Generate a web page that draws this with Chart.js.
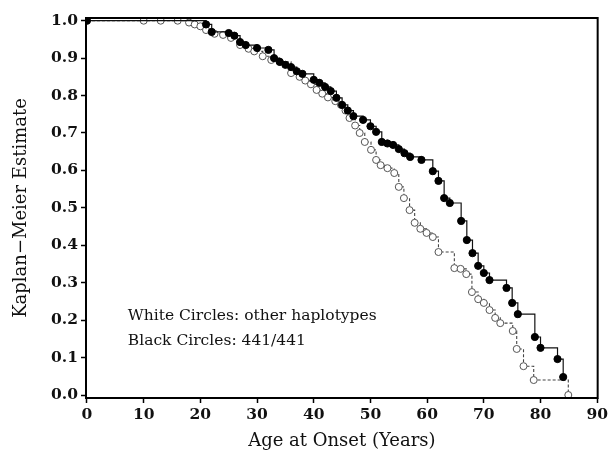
<!DOCTYPE html>
<html>
<head>
<meta charset="utf-8">
<script src="https://cdn.jsdelivr.net/npm/chart.js@4/dist/chart.umd.min.js"></script>
<style>
  html, body { margin: 0; padding: 0; background: #fff; }
  #wrap { width: 611px; height: 460px; position: relative; }
</style>
</head>
<body>
<div id="wrap"><canvas id="c" width="611" height="460"></canvas></div>
<script>
// Black circles: 441/441 (solid step line)
const blackAges = [0, 21, 22, 25, 26, 27, 28, 30, 32, 33, 34, 35, 36, 37, 38, 40, 41, 42, 43, 44, 45, 46, 47, 48.7, 50, 51, 52, 53, 54, 55, 56, 57, 59, 61, 62, 63, 64, 66, 67, 68, 69, 70, 71, 74, 75, 76, 79, 80, 83, 84];
const blackSurv = [1.0, 0.99, 0.97, 0.967, 0.96, 0.943, 0.935, 0.927, 0.922, 0.90, 0.89, 0.882, 0.876, 0.865, 0.858, 0.842, 0.834, 0.823, 0.812, 0.794, 0.775, 0.76, 0.745, 0.735, 0.718, 0.703, 0.676, 0.672, 0.668, 0.657, 0.646, 0.636, 0.628, 0.598, 0.572, 0.526, 0.513, 0.465, 0.414, 0.379, 0.345, 0.326, 0.307, 0.286, 0.246, 0.216, 0.155, 0.126, 0.096, 0.048];

// White circles: other haplotypes (dashed step line)
const whiteAges = [0, 10, 13, 16, 18, 19, 20, 21, 22.5, 24, 25.4, 27, 28.5, 29.5, 31, 32.5, 34, 36, 37.5, 38.5, 39.5, 40.5, 41.5, 42.5, 43.8, 44.8, 45.6, 46.3, 47.3, 48.1, 49, 50.1, 51, 51.8, 53, 54.2, 55, 55.9, 56.9, 57.8, 58.8, 59.9, 61, 62, 64.8, 65.9, 66.9, 67.9, 69, 70, 71, 72, 72.9, 75.1, 75.8, 77, 78.8, 84.9];
const whiteSurv = [1.0, 1.0, 1.0, 1.0, 0.995, 0.99, 0.985, 0.975, 0.965, 0.962, 0.954, 0.935, 0.925, 0.918, 0.905, 0.895, 0.89, 0.86, 0.85, 0.84, 0.83, 0.815, 0.805, 0.795, 0.785, 0.775, 0.76, 0.74, 0.72, 0.70, 0.676, 0.655, 0.628, 0.614, 0.606, 0.593, 0.556, 0.526, 0.494, 0.46, 0.444, 0.433, 0.422, 0.382, 0.339, 0.337, 0.323, 0.275, 0.256, 0.246, 0.227, 0.206, 0.192, 0.171, 0.123, 0.077, 0.040, 0.0];

const xTickValues = [0, 10, 20, 30, 40, 50, 60, 70, 80, 90];
const yTickValues = [0.0, 0.1, 0.2, 0.3, 0.4, 0.5, 0.6, 0.7, 0.8, 0.9, 1.0];

const xTitle = 'Age at Onset (Years)';
const yTitle = 'Kaplan\u2212Meier Estimate';
const noteLines = ['White Circles: other haplotypes', 'Black Circles: 441/441'];

const SERIF = '"DejaVu Serif", "Liberation Serif", serif';

const blackData = blackAges.map((a, i) => ({ x: a, y: blackSurv[i] }));
const whiteData = whiteAges.map((a, i) => ({ x: a, y: whiteSurv[i] }));
const whiteRadius = whiteAges.map((a, i) => (i === 0 ? 0 : 3.5));

const framePlugin = {
  id: 'frame',
  afterDraw(chart) {
    const { ctx, chartArea: a } = chart;
    ctx.save();
    ctx.strokeStyle = '#000';
    ctx.lineWidth = 2;
    ctx.strokeRect(a.left, a.top, a.right - a.left, a.bottom - a.top);
    ctx.fillStyle = '#111';
    ctx.font = '15.5px ' + SERIF;
    ctx.textBaseline = 'middle';
    ctx.textAlign = 'left';
    const xs = chart.scales.x, ys = chart.scales.y;
    const tx = xs.getPixelForValue(7.2);
    ctx.fillText(noteLines[0], tx, ys.getPixelForValue(0.21));
    ctx.fillText(noteLines[1], tx, ys.getPixelForValue(0.145));
    ctx.restore();
  }
};

new Chart(document.getElementById('c'), {
  type: 'line',
  data: {
    datasets: [
      {
        label: 'Black Circles: 441/441',
        data: blackData,
        stepped: true,
        borderColor: '#111',
        borderWidth: 1.2,
        pointRadius: 3.6,
        pointBackgroundColor: '#000',
        pointBorderColor: '#000',
        pointBorderWidth: 1,
        fill: false
      },
      {
        label: 'White Circles: other haplotypes',
        data: whiteData,
        stepped: true,
        borderColor: '#444',
        borderWidth: 1.1,
        borderDash: [3, 2],
        pointRadius: whiteRadius,
        pointBackgroundColor: '#fff',
        pointBorderColor: '#555',
        pointBorderWidth: 1,
        fill: false
      }
    ]
  },
  options: {
    responsive: false,
    animation: false,
    devicePixelRatio: 1,
    layout: { padding: { left: 0, right: 9, top: 18, bottom: 0 } },
    plugins: { legend: { display: false }, tooltip: { enabled: false } },
    scales: {
      x: {
        type: 'linear',
        min: -0.175,
        max: 90.08,
        afterFit(s) { s.height = 62; },
        afterBuildTicks(s) { s.ticks = xTickValues.map(v => ({ value: v })); },
        ticks: {
          color: '#111',
          font: { family: SERIF, size: 15.5, weight: 'bold' },
          padding: 3,
          maxRotation: 0,
          callback: v => String(v)
        },
        grid: { display: true, drawOnChartArea: false, drawTicks: true, tickLength: 5, color: '#000', tickWidth: 1.5 },
        border: { display: false },
        title: {
          display: true,
          text: xTitle,
          color: '#111',
          font: { family: SERIF, size: 18 },
          padding: { top: 0, bottom: 8 }
        }
      },
      y: {
        type: 'linear',
        min: -0.008,
        max: 1.0072,
        afterFit(s) { s.width = 86; },
        afterBuildTicks(s) { s.ticks = yTickValues.map(v => ({ value: v })); },
        ticks: {
          color: '#111',
          font: { family: SERIF, size: 15.5, weight: 'bold' },
          padding: 3,
          callback: v => Number(v).toFixed(1)
        },
        grid: { display: true, drawOnChartArea: false, drawTicks: true, tickLength: 5, color: '#000', tickWidth: 1.5 },
        border: { display: false },
        title: {
          display: true,
          text: yTitle,
          color: '#111',
          font: { family: SERIF, size: 18 },
          padding: { top: 10.5, bottom: 0 }
        }
      }
    }
  },
  plugins: [framePlugin]
});
</script>
</body>
</html>
